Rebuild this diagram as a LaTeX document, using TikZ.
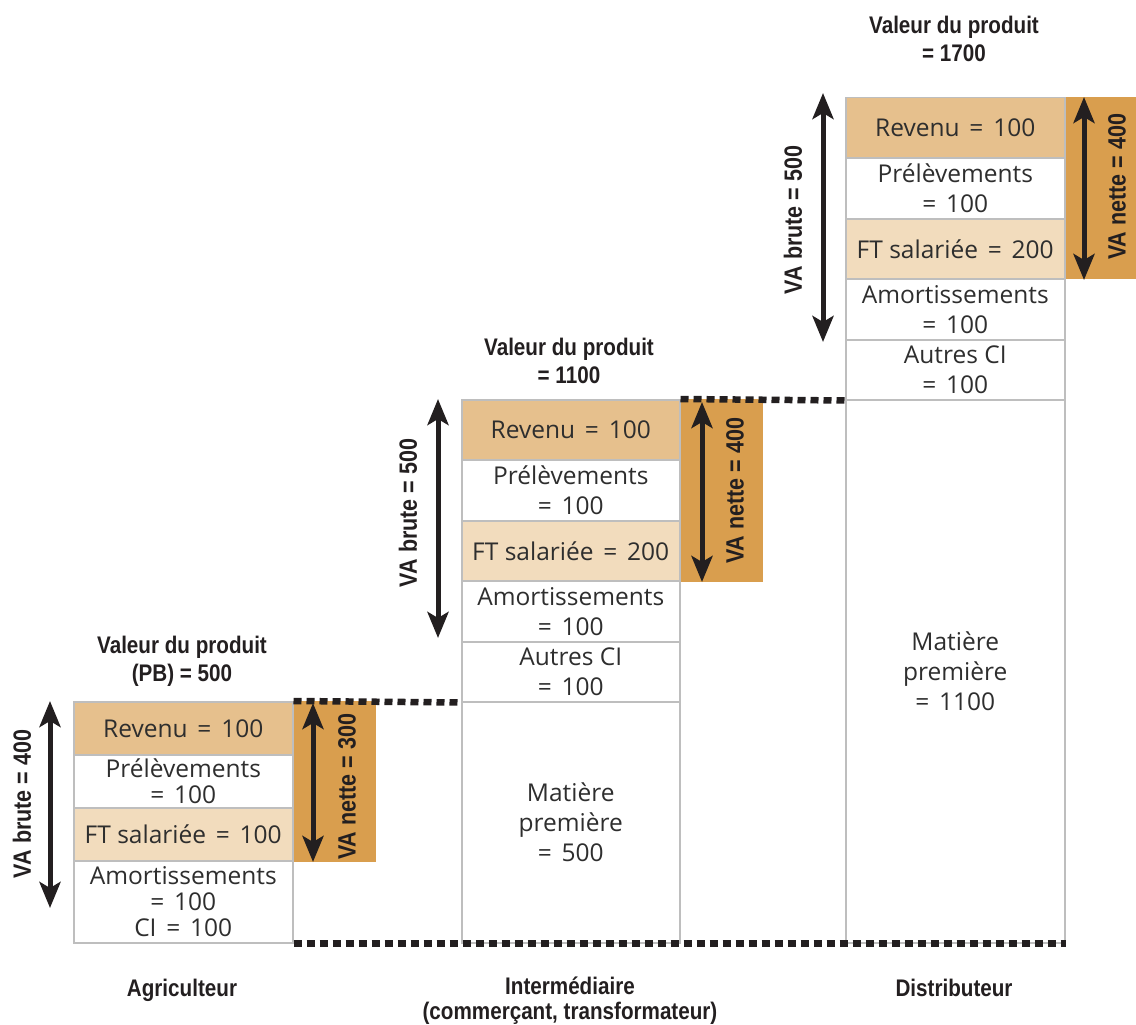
\documentclass[tikz,border=0pt]{standalone}
\usepackage{fontspec}
\setmainfont{Open Sans}
\newfontfamily\bcond{Liberation Sans}[FakeStretch=0.86]
\usetikzlibrary{arrows.meta}
\definecolor{rev}{HTML}{E6C08D}
\definecolor{ftc}{HTML}{F2DCBD}
\definecolor{vanet}{HTML}{D99E4E}
\definecolor{cellline}{HTML}{BEBEBE}
\definecolor{ink}{HTML}{231F20}
\definecolor{txt}{HTML}{2E2E2E}
\newcommand{\eqs}{\hspace{0.4em}=\hspace{0.4em}}
\newcommand{\eql}{=\hspace{0.4em}}
\begin{document}
\begin{tikzpicture}[x=1pt,y=-1pt,
 cell/.style={draw=cellline, line width=1.5pt, anchor=north west, inner sep=0pt, align=center, text=txt},
 cellA/.style={cell, minimum width=219pt, font=\fontsize{24.5}{26}\selectfont},
 cellB/.style={cell, minimum width=218pt, font=\fontsize{24.5}{30}\selectfont},
 netbox/.style={fill=vanet, anchor=north west, inner sep=0pt},
 lab/.style={font=\bcond\bfseries\fontsize{24}{28}\selectfont, text=ink, align=center},
 vlab/.style={font=\bcond\bfseries\fontsize{25}{28}\selectfont, text=ink, rotate=90},
 dbl/.style={draw=ink, line width=5pt, {Stealth[length=26pt,width=21pt,inset=6pt]}-{Stealth[length=26pt,width=21pt,inset=6pt]}},
 dots/.style={draw=ink, line width=6.5pt, dash pattern=on 8pt off 5pt},
]
\useasboundingbox (0,0) rectangle (1136,1025);

% net value boxes
\node[netbox, minimum width=84pt, minimum height=161pt] (n1) at (292,701) {};
\node[netbox, minimum width=84pt, minimum height=183pt] (n2) at (679,399) {};
\node[netbox, minimum width=72pt, minimum height=182pt] (n3) at (1064,97) {};

% column 1
\node[cellA, fill=rev, minimum height=53pt] (rev1) at (73,701) {Revenu\eqs 100};
\node[cellA, minimum height=53pt] (pre1) at (73,754) {Prélèvements\\\eql 100};
\node[cellA, fill=ftc, minimum height=53pt] (ft1) at (73,807) {FT salariée\eqs 100};
\node[cellA, minimum height=82pt] (am1) at (73,860) {Amortissements\\\eql 100\\CI\eqs 100};

% column 2
\node[cellB, fill=rev, minimum height=60pt] (rev2) at (461,399) {Revenu\eqs 100};
\node[cellB, minimum height=61pt] (pre2) at (461,459) {Prélèvements\\\eql 100};
\node[cellB, fill=ftc, minimum height=60pt] (ft2) at (461,520) {FT salariée\eqs 200};
\node[cellB, minimum height=61pt] (am2) at (461,580) {Amortissements\\\eql 100};
\node[cellB, minimum height=60pt] (ci2) at (461,641) {Autres CI\\\eql 100};
\node[cellB, minimum height=241pt] (mp2) at (461,701) {Matière\\première\\\eql 500};

% column 3
\node[cellB, minimum width=219pt, fill=rev, minimum height=60pt] (rev3) at (845,97) {Revenu\eqs 100};
\node[cellB, minimum width=219pt, minimum height=61pt] (pre3) at (845,157) {Prélèvements\\\eql 100};
\node[cellB, minimum width=219pt, fill=ftc, minimum height=60pt] (ft3) at (845,218) {FT salariée\eqs 200};
\node[cellB, minimum width=219pt, minimum height=61pt] (am3) at (845,278) {Amortissements\\\eql 100};
\node[cellB, minimum width=219pt, minimum height=60pt] (ci3) at (845,339) {Autres CI\\\eql 100};
\node[cellB, minimum width=219pt, minimum height=543pt] (mp3) at (845,399) {Matière\\première\\\eql 1100};

% dotted lines
\draw[dots] (rev1.north east) -- (ci2.south west);
\draw[dots] (rev2.north east) -- (ci3.south west);
\draw[dots] (am1.south east) -- (mp3.south east);

% arrows
\coordinate (b1t) at (50,701); \coordinate (b1b) at (50,908);
\coordinate (b2t) at (438,399); \coordinate (b2b) at (438,638);
\coordinate (b3t) at (823,93); \coordinate (b3b) at (823,342);
\coordinate (t1t) at (313,703); \coordinate (t1b) at (313,862);
\coordinate (t2t) at (702,402); \coordinate (t2b) at (702,582);
\coordinate (t3t) at (1084,97); \coordinate (t3b) at (1084,280);
\draw[dbl] (b1t) -- (b1b);
\draw[dbl] (b2t) -- (b2b);
\draw[dbl] (b3t) -- (b3b);
\draw[dbl] (t1t) -- (t1b);
\draw[dbl] (t2t) -- (t2b);
\draw[dbl] (t3t) -- (t3b);

% rotated labels
\node[vlab] (vb1) at (22,804) {VA brute = 400};
\node[vlab] (vb2) at (408,513) {VA brute = 500};
\node[vlab] (vb3) at (793,220) {VA brute = 500};
\node[vlab] (vn1) at (347,787) {VA nette = 300};
\node[vlab] (vn2) at (735,491) {VA nette = 400};
\node[vlab] (vn3) at (1117,187) {VA nette = 400};

% titles
\node[lab] (tt1) at (182,661) {Valeur du produit\\(PB) = 500};
\node[lab] (tt2) at (569,361) {Valeur du produit\\= 1100};
\node[lab] (tt3) at (954,39) {Valeur du produit\\= 1700};

% bottom labels
\node[lab, anchor=base] (ag) at (182,996) {Agriculteur};
\node[lab, anchor=north, font=\bcond\bfseries\fontsize{24}{25}\selectfont] (im) at (570,973) {Intermédiaire\\(commerçant, transformateur)};
\node[lab, anchor=base] (di) at (954,996) {Distributeur};
\end{tikzpicture}
\end{document}
